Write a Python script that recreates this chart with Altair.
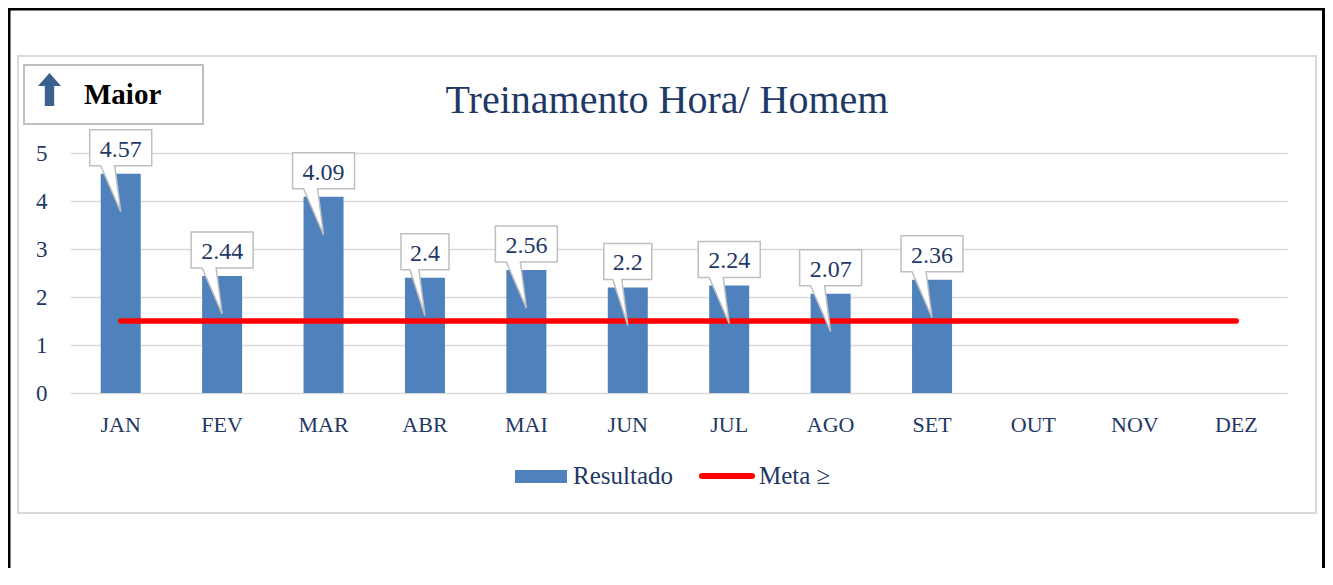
import altair as alt
import pandas as pd

# ---- data ----
meses = ["JAN", "FEV", "MAR", "ABR", "MAI", "JUN", "JUL", "AGO", "SET", "OUT", "NOV", "DEZ"]
resultado = [4.57, 2.44, 4.09, 2.4, 2.56, 2.2, 2.24, 2.07, 2.36, None, None, None]
meta = [1.5, 1.5, 1.5, 1.5, 1.5, 1.5, 1.5, 1.5, 1.5, 1.5, 1.5, 1.5]
y_ticks = [0, 1, 2, 3, 4, 5]
titulo = "Treinamento Hora/ Homem"
legenda = ["Resultado", "Meta ≥"]
indicador = "Maior"

# ---- styles ----
FONT = "Liberation Serif"
NAVY = "#1F3864"
BLUE = "#4F81BD"
RED = "#FF0000"
GRID = "#D9D9D9"
BOX = "#BFBFBF"

W, H = 1217, 240
PAD = {"left": 62, "top": 145, "right": 38, "bottom": 175}

df = pd.DataFrame({"mes": meses, "resultado": resultado, "meta": meta})


def callout(label):
    w = 31 if len(label) >= 4 else 24
    b = -20 if len(label) >= 4 else -15
    return f"M{-w},-44L{w},-44L{w},-8L-6,-8L0,38L{b},-8L{-w},-8Z"


df_lab = df.dropna(subset=["resultado"]).copy()
df_lab["rotulo"] = df_lab["resultado"].map(lambda v: f"{v:g}")
df_lab["forma"] = df_lab["rotulo"].map(callout)

x_scale = alt.Scale(type="band", domain=meses, paddingInner=0, paddingOuter=0)
x_axis = alt.Axis(title=None, labelAngle=0, ticks=False, tickSize=0, domain=False,
                  grid=False, labelPadding=21, labelFont=FONT, labelFontSize=22,
                  labelColor=NAVY)
y_scale = alt.Scale(domain=[0, 5], nice=False)
y_axis = alt.Axis(title=None, values=y_ticks, ticks=False, tickSize=0, domain=False,
                  labelPadding=23, labelFont=FONT, labelFontSize=23, labelColor=NAVY,
                  gridColor=GRID, gridWidth=1.5)

one = pd.DataFrame({"k": [0]})

# ---- decorative frames ----
inner = alt.Chart(one).mark_rect(fill="white", fillOpacity=0, stroke=GRID, strokeWidth=2).encode(
    x=alt.value(-52), x2=alt.value(1246), y=alt.value(-97), y2=alt.value(360))
frame_top = alt.Chart(one).mark_rule(color="black", strokeWidth=3).encode(
    x=alt.value(-62), x2=alt.value(1255), y=alt.value(-144))
frame_left = alt.Chart(one).mark_rule(color="black", strokeWidth=3).encode(
    x=alt.value(-61), y=alt.value(-145), y2=alt.value(415))
frame_right = alt.Chart(one).mark_rule(color="black", strokeWidth=3).encode(
    x=alt.value(1253.5), y=alt.value(-145), y2=alt.value(415))

maior_box = alt.Chart(one).mark_rect(fill="white", stroke=BOX, strokeWidth=2).encode(
    x=alt.value(-46), x2=alt.value(133), y=alt.value(-88), y2=alt.value(-29))
arrow_path = "M0,-16.5L11.5,-3.5L4.7,-3.5L4.7,16.5L-4.7,16.5L-4.7,-3.5L-11.5,-3.5Z"
maior_arrow = alt.Chart(one).mark_point(shape=arrow_path, size=4, filled=True,
                                         fill="#3B5F8F", strokeWidth=0, opacity=1).encode(
    x=alt.value(-20.5), y=alt.value(-63.5))
maior_text = alt.Chart(pd.DataFrame({"t": [indicador]})).mark_text(
    font=FONT, fontSize=29, fontWeight="bold", color="black", align="left",
    baseline="alphabetic").encode(text="t:N", x=alt.value(14), y=alt.value(-49))

title = alt.Chart(pd.DataFrame({"t": [titulo]})).mark_text(
    font=FONT, fontSize=40, color=NAVY, align="center", baseline="alphabetic").encode(
    text="t:N", x=alt.value(597), y=alt.value(-40))

# ---- data marks ----
bars = alt.Chart(df).mark_bar(color=BLUE, size=40).encode(
    x=alt.X("mes:N", scale=x_scale, axis=x_axis),
    y=alt.Y("resultado:Q", scale=y_scale, axis=y_axis))

line = alt.Chart(df).mark_line(color=RED, strokeWidth=5.5, strokeCap="round").encode(
    x=alt.X("mes:N", scale=x_scale, axis=x_axis),
    y=alt.Y("meta:Q", scale=y_scale, axis=y_axis))

callouts = alt.Chart(df_lab).mark_point(filled=True, fill="white", stroke=BOX,
                                        strokeWidth=1.5, opacity=1).encode(
    x=alt.X("mes:N", scale=x_scale, axis=x_axis),
    y=alt.Y("resultado:Q", scale=y_scale, axis=y_axis),
    shape=alt.Shape("forma:N", scale=None),
    size=alt.value(4))

labels = alt.Chart(df_lab).mark_text(font=FONT, fontSize=24, color=NAVY,
                                     baseline="alphabetic", dy=-17).encode(
    x=alt.X("mes:N", scale=x_scale, axis=x_axis),
    y=alt.Y("resultado:Q", scale=y_scale, axis=y_axis),
    text="rotulo:N")

# ---- manual legend ----
leg_bar = alt.Chart(one).mark_rect(fill=BLUE).encode(
    x=alt.value(445), x2=alt.value(497), y=alt.value(317), y2=alt.value(330))
leg_line = alt.Chart(one).mark_rule(color=RED, strokeWidth=6, strokeCap="round").encode(
    x=alt.value(632), x2=alt.value(682), y=alt.value(323))
leg_t1 = alt.Chart(pd.DataFrame({"t": [legenda[0]]})).mark_text(
    font=FONT, fontSize=25, color=NAVY, align="left", baseline="alphabetic").encode(
    text="t:N", x=alt.value(503), y=alt.value(331))
leg_t2 = alt.Chart(pd.DataFrame({"t": [legenda[1]]})).mark_text(
    font=FONT, fontSize=25, color=NAVY, align="left", baseline="alphabetic").encode(
    text="t:N", x=alt.value(689), y=alt.value(331))

chart = alt.layer(
    inner, frame_top, frame_left, frame_right, maior_box, maior_arrow, maior_text, title,
    bars, line, callouts, labels, leg_bar, leg_line, leg_t1, leg_t2
).properties(
    width=W, height=H, padding=PAD,
    autosize=alt.AutoSizeParams(type="none"),
    background="white",
).configure_view(stroke=None)

chart.save("out.html", embed_options={"renderer": "svg", "actions": False})
